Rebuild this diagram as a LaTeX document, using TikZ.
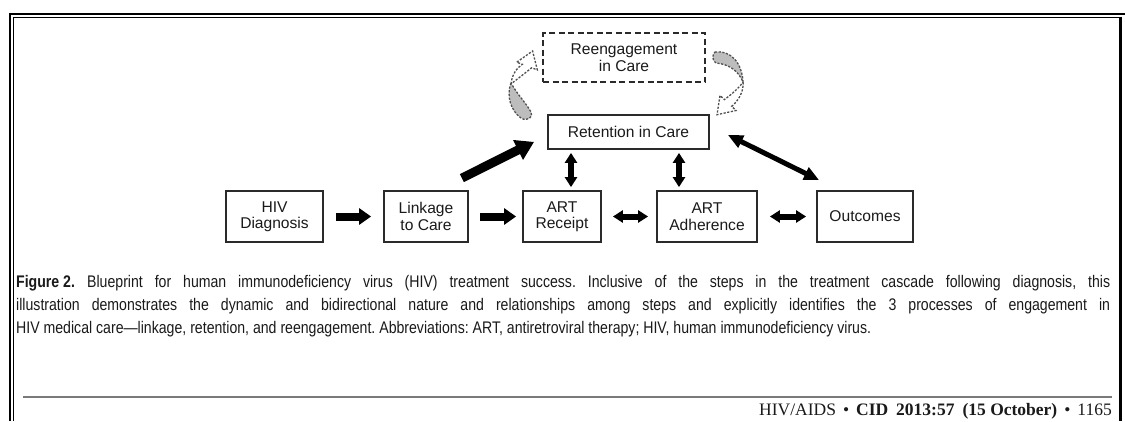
\documentclass[tikz,border=0pt]{standalone}
\usepackage{fontspec}
\setmainfont{Liberation Sans}
\newfontfamily\capfont[FakeStretch=0.84]{Liberation Sans}
\newfontfamily\footfont{Liberation Serif}
\usetikzlibrary{arrows.meta,calc}
\definecolor{ink}{HTML}{1A1A1A}
\definecolor{boxline}{HTML}{2A2A2A}
\definecolor{shade}{HTML}{BDBDBD}
\definecolor{dashgray}{HTML}{505050}
\definecolor{rulegray}{HTML}{7A7A7A}
\frenchspacing
\begin{document}
\begin{tikzpicture}[x=1pt,y=-1pt,
  stepbox/.style={draw=boxline, line width=1.8pt, minimum height=51pt, inner sep=0pt,
    align=center, text=ink, font=\fontsize{15.6}{16.5}\selectfont},
  blk/.style={line width=8pt, -{Triangle[length=12pt,width=16pt]}},
  dblh/.style={line width=6pt, {Triangle[length=10pt,width=12pt]}-{Triangle[length=10pt,width=12pt]}},
  thick diag/.style={line width=9pt, -{Triangle[length=18pt,width=21pt]}},
  thin diag/.style={line width=5pt, {Triangle[length=15pt,width=13pt]}-{Triangle[length=15pt,width=13pt]}},
  curvgray/.style={fill=shade, draw=dashgray, line width=1.3pt, dash pattern=on 2.2pt off 1.5pt},
  curvwhite/.style={fill=white, draw=dashgray, line width=1.3pt, dash pattern=on 2.2pt off 1.5pt},
  capstyle/.style={inner sep=0pt, text=ink, font=\capfont\fontsize{16.8}{23}\selectfont},
]
\useasboundingbox (0,0) rectangle (1125,421);
\fill[white] (0,0) rectangle (1125,421);

% frame
\draw[line width=2.7pt] (9,14) -- (1125,14);
\draw[line width=2.4pt] (10.2,12.7) -- (10.2,421);
\draw[line width=1pt] (13.8,421) -- (13.8,17.3) -- (1119.5,17.3);
\draw[line width=3pt] (1120.8,16.5) -- (1120.8,421);

% boxes
\node[stepbox, minimum width=97pt] (hiv) at (274.5,216.5) {HIV\\Diagnosis};
\node[stepbox, minimum width=84pt] (link) at (426,216.5) {Linkage\\to Care};
\node[stepbox, minimum width=78pt] (rec) at (562,216.5) {ART\\Receipt};
\node[stepbox, minimum width=100pt] (adh) at (707,216.5) {ART\\Adherence};
\node[stepbox, minimum width=96pt] (out) at (865,216.5) {Outcomes};
\node[stepbox, minimum width=161pt, minimum height=34pt] (ret) at (628.5,132) {Retention in Care};
\node[stepbox, minimum width=162pt, minimum height=49pt, line width=2pt,
      dash pattern=on 6pt off 3.5pt] (reeng) at (624,57.5) {Reengagement\\in Care};

% horizontal arrows
\draw[blk, shorten <=12pt, shorten >=12pt] (hiv) -- (link);
\draw[blk, shorten <=11pt, shorten >=6pt] (link) -- (rec);
\draw[dblh, shorten <=11pt, shorten >=8pt] (rec) -- (adh);
\draw[dblh, shorten <=12pt, shorten >=10pt] (adh) -- (out);

% vertical arrows
\coordinate (v1) at ($(rec.north)+(9,0)$);
\coordinate (v2) at ($(adh.north)+(-28,0)$);
\draw[dblh, line width=5.5pt, shorten <=3pt, shorten >=3pt] (v1) -- (v1 |- ret.south);
\draw[dblh, line width=5.5pt, shorten <=3pt, shorten >=3pt] (v2) -- (v2 |- ret.south);

% diagonal arrows
\coordinate (d1) at ($(link.north east)+(-7,-12)$);
\coordinate (d2) at ($(ret.south west)+(-13,-8)$);
\draw[thick diag] (d1) -- (d2);
\coordinate (e1) at ($(ret.east)+(18,3)$);
\coordinate (e2) at ($(out.north west)+(3,-10)$);
\draw[thin diag] (e1) -- (e2);

% curved arrows (dashed outlines)
\filldraw[curvgray] (511,83) .. controls (506,96) and (511,111) .. (521,118)
  .. controls (527,122) and (534,117) .. (531,112)
  .. controls (526,103) and (517,94) .. (511,83) -- cycle;
\filldraw[curvwhite] (511,84) .. controls (512,74) and (517,68) .. (522.3,64.3)
  -- (516.7,62.2) -- (532.6,51) -- (537.3,69.9) -- (531.7,67.75)
  .. controls (524,74) and (516,80) .. (511,84) -- cycle;
\filldraw[curvgray] (715,52) .. controls (730,50) and (742,62) .. (743,82)
  .. controls (738,70) and (728,64) .. (716,63)
  .. controls (712,61) and (712,54) .. (715,52) -- cycle;
\filldraw[curvwhite] (743,82) .. controls (744,92) and (738,101) .. (731.7,106.4)
  -- (736,110.5) -- (717,114.7) -- (720,95.5) -- (724.4,99.6)
  .. controls (732,94) and (739,88) .. (743,82) -- cycle;

% caption
\node[capstyle, anchor=base west] (c1) at (16,287) {\makebox[1094pt][s]{\makebox[60pt][l]{\textbf{Figure 2.}}\hspace{11pt}Blueprint for human immunodeficiency virus (HIV) treatment success. Inclusive of the steps in the treatment cascade following diagnosis, this}};
\node[capstyle, anchor=base west] (c2) at (16,310) {\makebox[1094pt][s]{illustration demonstrates the dynamic and bidirectional nature and relationships among steps and explicitly identifies the 3 processes of engagement in}};
\node[capstyle, anchor=base west] (c3) at (16,333) {HIV medical care—linkage, retention, and reengagement. Abbreviations: ART, antiretroviral therapy; HIV, human immunodeficiency virus.};

% footer
\draw[rulegray, line width=1.5pt] (23,397) -- (1112,397);
\node[anchor=base east, inner sep=0pt, text=ink, font=\footfont\fontsize{17.5}{17.5}\selectfont] (foot) at (1112,415)
  {HIV/AIDS\hspace{7pt}•\hspace{7pt}\textbf{CID\hspace{8pt}2013:57\hspace{8pt}(15 October)}\hspace{7pt}•\hspace{7pt}1165};
\end{tikzpicture}
\end{document}
